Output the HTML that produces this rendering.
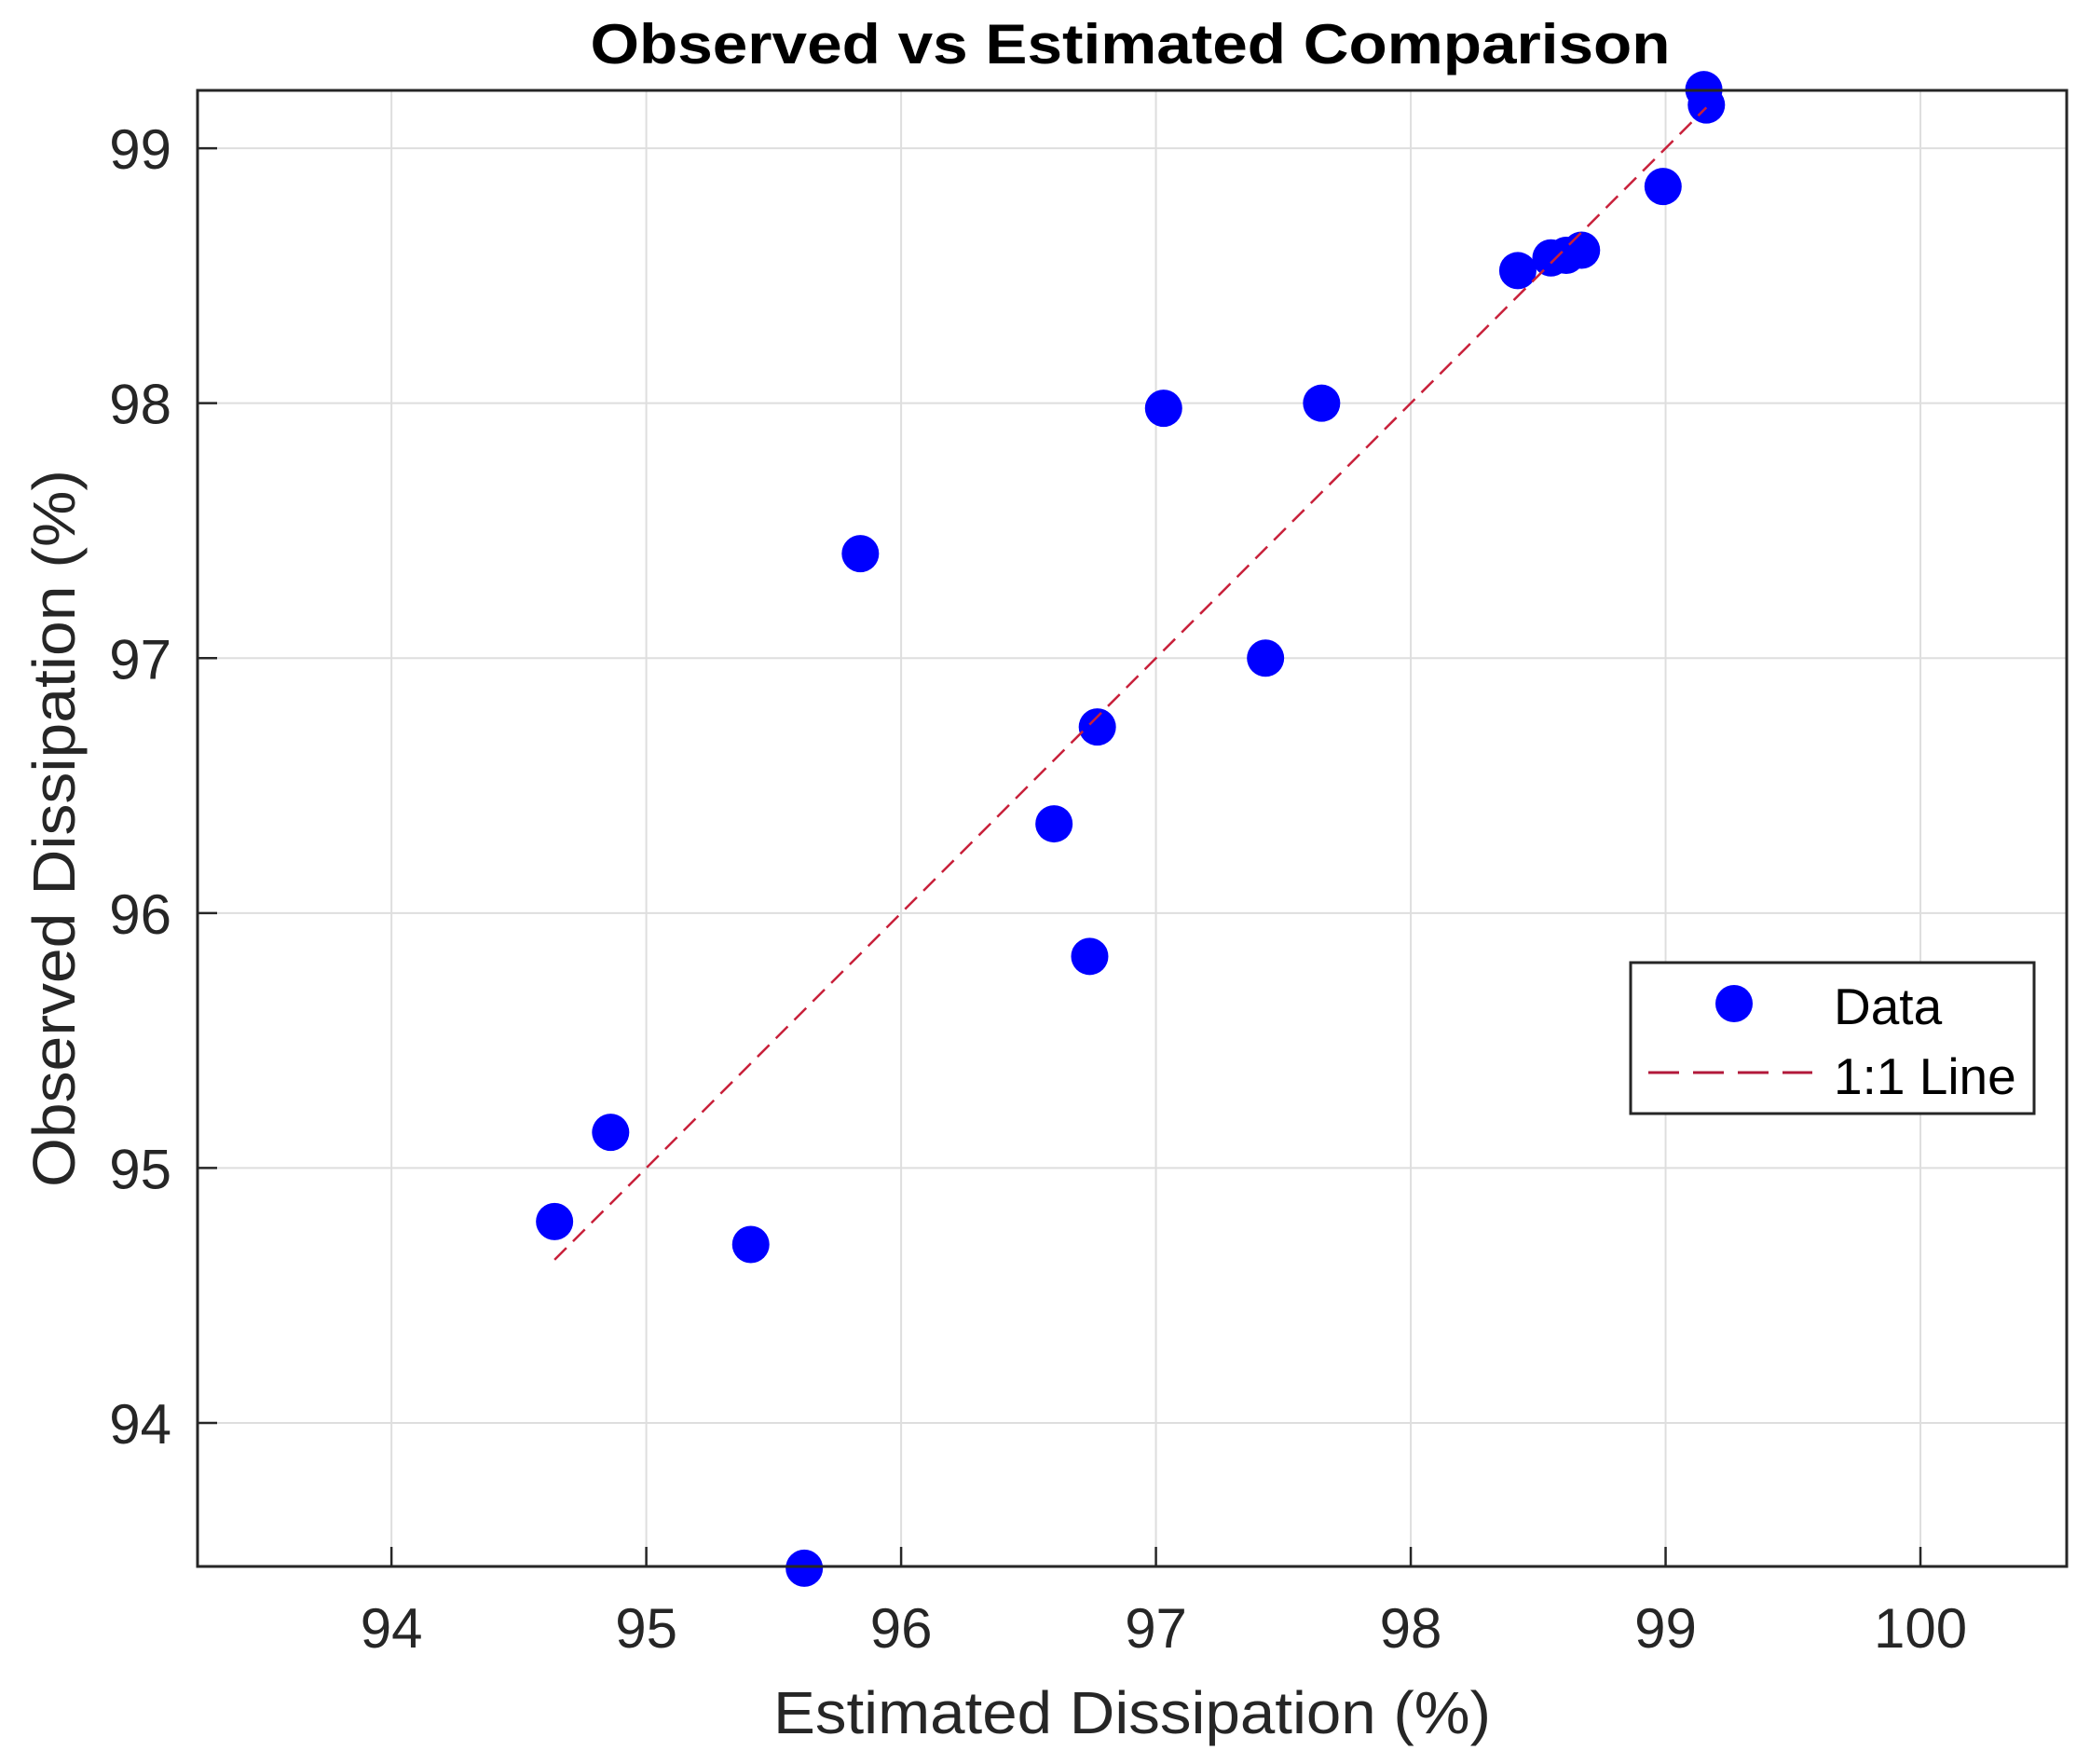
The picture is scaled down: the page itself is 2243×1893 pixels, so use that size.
<!DOCTYPE html>
<html><head><meta charset="utf-8"><style>
html,body{margin:0;padding:0;background:#fff;}
svg{display:block;}
text{font-family:"Liberation Sans",Arial,sans-serif;}
</style></head><body>
<svg id="chart" width="2243" height="1893" viewBox="0 0 2243 1893" xmlns="http://www.w3.org/2000/svg">
<rect width="2243" height="1893" fill="#fff"/>
<g id="grid"></g>
<g id="marks"></g>
<rect x="212" y="97" width="2006" height="1584" fill="none" stroke="#262626" stroke-width="3"/>
<g id="ticks"></g>
<text x="1213" y="68" text-anchor="middle" font-size="60" font-weight="bold" fill="#000" textLength="1159" lengthAdjust="spacingAndGlyphs">Observed vs Estimated Comparison</text>
<text x="1215" y="1860" text-anchor="middle" font-size="64" fill="#262626" textLength="770" lengthAdjust="spacingAndGlyphs">Estimated Dissipation (%)</text>
<text transform="translate(80,889) rotate(-90)" text-anchor="middle" font-size="64" fill="#262626" textLength="770" lengthAdjust="spacingAndGlyphs">Observed Dissipation (%)</text>
<g>
<rect x="1750" y="1033" width="433" height="162" fill="#fff" stroke="#262626" stroke-width="3"/>
<circle cx="1861" cy="1077" r="20" fill="#0000ff"/>
<text x="1968" y="1099" font-size="55" fill="#000">Data</text>
<line x1="1769" y1="1151" x2="1945" y2="1151" stroke="#b2183a" stroke-width="3" stroke-dasharray="33,15"/>
<text x="1968" y="1174" font-size="55" fill="#000">1:1 Line</text>
</g>
</svg>
<script>
const xVals=[94.64,94.86,95.41,95.62,95.84,96.60,96.74,96.77,97.03,97.43,97.65,98.42,98.55,98.61,98.67,98.99,99.15,99.16];
const yVals=[94.79,95.14,94.70,93.43,97.41,96.35,95.83,96.73,97.98,97.00,98.00,98.52,98.57,98.58,98.60,98.85,99.23,99.17];
const xTicks=[94,95,96,97,98,99,100];
const yTicks=[94,95,96,97,98,99];
const lineRange=[94.64,99.16];
const NS="http://www.w3.org/2000/svg";
const L=212,R=2218,T=97,B=1681;
const xMin=93.239,xMax=100.574,yMin=93.437,yMax=99.227;
function sx(v){return L+(v-xMin)/(xMax-xMin)*(R-L);}
function sy(v){return B-(v-yMin)/(yMax-yMin)*(B-T);}
function mk(tag,attrs,parent){const e=document.createElementNS(NS,tag);for(const k in attrs)e.setAttribute(k,attrs[k]);parent.appendChild(e);return e;}
const grid=document.getElementById('grid'),marks=document.getElementById('marks'),ticks=document.getElementById('ticks');
xTicks.forEach(t=>{
 const g=mk('line',{x1:sx(t),x2:sx(t),y1:T,y2:B,stroke:'#dedede','stroke-width':2},grid);
 
 
 const tk=mk('line',{x1:sx(t),x2:sx(t),y1:B,y2:B-21,stroke:'#262626','stroke-width':2.5},ticks);
 
 
 const tx=mk('text',{x:sx(t),y:1768,'text-anchor':'middle','font-size':60,fill:'#262626'},ticks);
 tx.textContent=t;
 
 
});
yTicks.forEach(t=>{
 const g=mk('line',{x1:L,x2:R,y1:sy(t),y2:sy(t),stroke:'#dedede','stroke-width':2},grid);
 
 
 const tk=mk('line',{x1:L,x2:L+21,y1:sy(t),y2:sy(t),stroke:'#262626','stroke-width':2.5},ticks);
 
 
 const tx=mk('text',{x:184,y:sy(t)+22,'text-anchor':'end','font-size':60,fill:'#262626'},ticks);
 tx.textContent=t;
 
 
});
xVals.forEach((x,i)=>{
 const c=mk('circle',{cx:sx(x),cy:sy(yVals[i]),r:20,fill:'#0000ff'},marks);
 
 
});
const ln=mk('line',{x1:sx(lineRange[0]),y1:sy(lineRange[0]),x2:sx(lineRange[1]),y2:sy(lineRange[1]),stroke:'#c8203a','stroke-width':2.5,'stroke-dasharray':'18,10'},marks);


</script>
</body></html>
